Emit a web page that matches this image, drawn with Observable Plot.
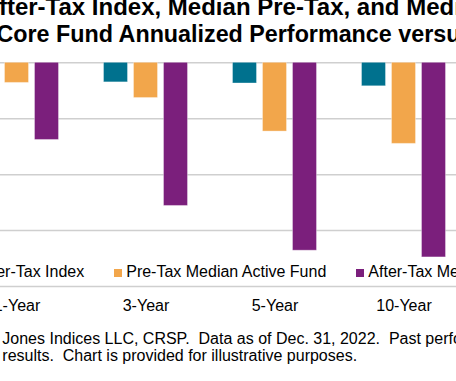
<!DOCTYPE html>
<html>
<head>
<meta charset="utf-8">
<script src="https://cdn.jsdelivr.net/npm/d3@7"></script>
<script src="https://cdn.jsdelivr.net/npm/@observablehq/plot@0.6"></script>
<style>
  html, body { margin: 0; padding: 0; background: #fff; }
  body { width: 456px; height: 381px; overflow: hidden; position: relative;
         font-family: "Liberation Sans", Arial, sans-serif; color: #000; }
  .t { position: absolute; white-space: pre; line-height: 1; }
  .title { font-weight: bold; }
  .small { font-size: 16px; }
  #legend { position: absolute; top: 264.2px; left: -35.4px; display: flex; gap: 30px;
            font-size: 16px; line-height: 1; white-space: pre; }
  #legend .sw { display: inline-block; width: 8px; height: 8px; margin-right: 4px; }
  #chart { position: absolute; left: -60px; top: 40px; width: 540px; height: 290px; z-index: 2; }
  #chart svg { max-width: none; }
</style>
</head>
<body>
<div class="t title" style="font-size:24px; left:-18.4px; top:-5.2px;">After-Tax Index, Median Pre-Tax, and Median</div>
<div class="t title" style="font-size:23.3px; left:-3.5px; top:22.8px;">Core Fund Annualized Performance versus</div>
<div id="legend"></div>
<div id="chart"></div>
<div class="t small" style="left:2.3px; top:330.8px;">Jones Indices LLC, CRSP.  Data as of Dec. 31, 2022.  Past performance</div>
<div class="t small" style="left:2.3px; top:347.5px;">results.  Chart is provided for illustrative purposes.</div>
<script>
const categories = ["1-Year", "3-Year", "5-Year", "10-Year"];
const seriesNames = ["After-Tax Index", "Pre-Tax Median Active Fund", "After-Tax Median Active Fund"];
const afterTaxIndex = [-0.30, -0.35, -0.37, -0.42];
const preTaxMedian = [-0.36, -0.63, -1.23, -1.45];
const afterTaxMedian = [-1.38, -2.56, -3.36, -3.48];
const gridTicks = [0, -1, -2, -3, -4];
const colors = ["#00718e", "#f2a64b", "#7b1f7c"];

const seriesValues = [afterTaxIndex, preTaxMedian, afterTaxMedian];
const rows = categories.flatMap((c, i) =>
  seriesValues.map((arr, j) => ({category: c, series: seriesNames[j], value: arr[i]})));

const svg = Plot.plot({
  width: 540,
  height: 290,
  marginLeft: 11.5,
  marginRight: 12.5,
  marginTop: 22.3,
  marginBottom: 44,
  style: {fontFamily: "'Liberation Sans', Arial, sans-serif", fontSize: "16px", color: "#000", background: "transparent", overflow: "visible", maxWidth: "none"},
  fx: {domain: categories, padding: 0, axis: "bottom", tickSize: 0, tickPadding: 13, label: null},
  x: {domain: seriesNames, axis: null, paddingInner: 0.207, paddingOuter: 0.724},
  y: {domain: [-4, 0], axis: null},
  color: {domain: seriesNames, range: colors},
  marks: [
    Plot.ruleY(gridTicks, {stroke: "#cfcfcf", strokeWidth: 1.5}),
    Plot.barY(rows, {fx: "category", x: "series", y: "value", fill: "series", stroke: "#ffffff", strokeOpacity: 0.35, strokeWidth: 1})
  ]
});
document.getElementById("chart").appendChild(svg);

const legend = document.getElementById("legend");
seriesNames.forEach((name, i) => {
  const item = document.createElement("div");
  const sw = document.createElement("span");
  sw.className = "sw";
  sw.style.background = colors[i];
  item.appendChild(sw);
  item.appendChild(document.createTextNode(name));
  legend.appendChild(item);
});
</script>
</body>
</html>
